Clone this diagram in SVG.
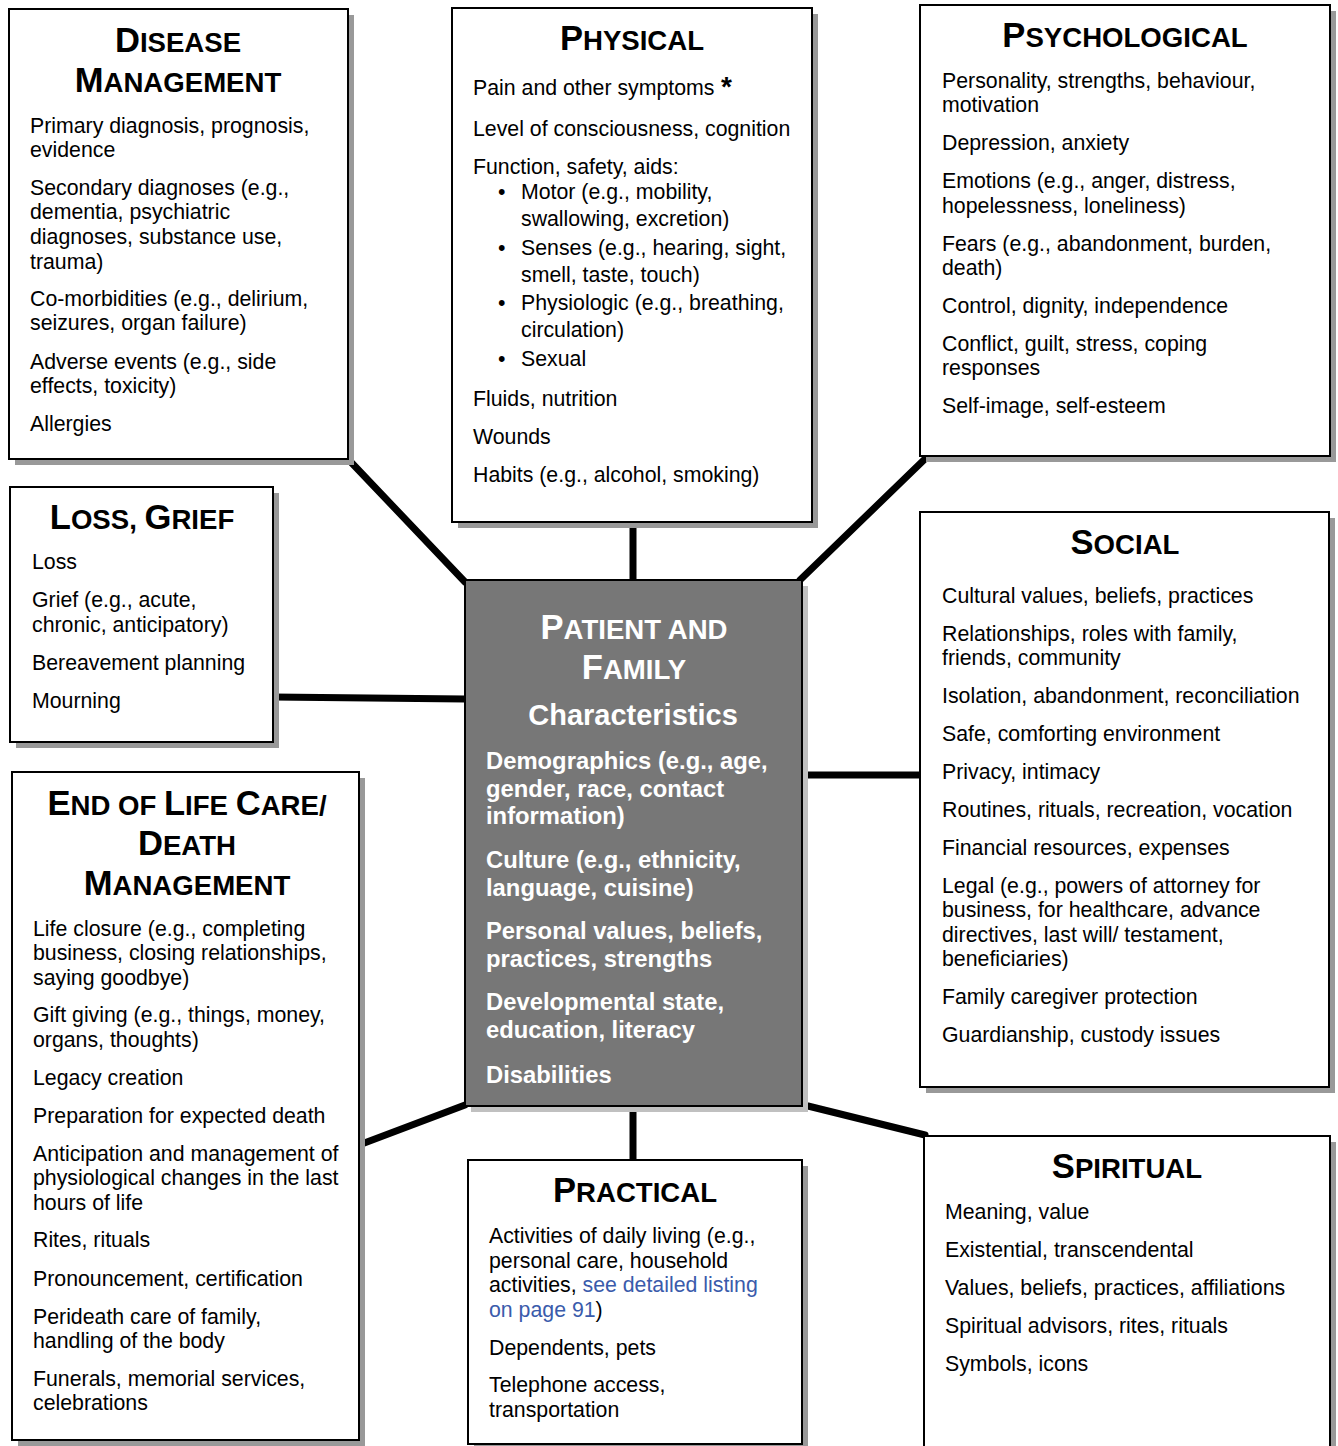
<svg xmlns="http://www.w3.org/2000/svg" width="1338" height="1446" viewBox="0 0 1338 1446">
<style>
.box{fill:#fff;stroke:#000;stroke-width:2}
.sh{fill:#999}
.csh{fill:#c0c0c0}
.cbox{fill:#777;stroke:#000;stroke-width:2}
.t{font-family:"Liberation Sans",Arial,sans-serif;font-size:21.3px;fill:#000}
.tt{font-family:"Liberation Sans",Arial,sans-serif;font-weight:bold;fill:#000;text-anchor:middle;font-size:27.6px}
.tt .b{font-size:34.6px}
.w{fill:#fff}
.cb{font-family:"Liberation Sans",Arial,sans-serif;font-weight:bold;font-size:23.8px;fill:#fff}
.ch{font-family:"Liberation Sans",Arial,sans-serif;font-weight:bold;font-size:29px;fill:#fff;text-anchor:middle}
.ast{font-family:"Liberation Sans",Arial,sans-serif;font-weight:bold;font-size:28px;fill:#000}
.lnk{fill:#3a5bab}
.con{stroke:#000;stroke-width:7;stroke-linecap:round;fill:none}
</style>
<rect width="1338" height="1446" fill="#fff"/>
<g id="connectors">
<line class="con" x1="348" y1="459" x2="465" y2="582"/>
<line class="con" x1="633" y1="522" x2="633" y2="580"/>
<line class="con" x1="928" y1="456" x2="800" y2="580"/>
<line class="con" x1="273" y1="697" x2="465" y2="699"/>
<line class="con" x1="808" y1="775" x2="925" y2="775"/>
<line class="con" x1="359" y1="1145" x2="465" y2="1105"/>
<line class="con" x1="633" y1="1110" x2="633" y2="1160"/>
<line class="con" x1="808" y1="1106" x2="925" y2="1135"/>
</g>
<g id="disease">
<rect class="sh" x="15" y="15" width="339" height="450"/>
<rect class="box" x="9" y="9" width="339" height="450"/>
<text class="tt" x="178" y="52"><tspan class="b">D</tspan>ISEASE</text>
<text class="tt" x="178" y="92"><tspan class="b">M</tspan>ANAGEMENT</text>
<text class="t" x="30" y="133">Primary diagnosis, prognosis,</text>
<text class="t" x="30" y="157">evidence</text>
<text class="t" x="30" y="195">Secondary diagnoses (e.g.,</text>
<text class="t" x="30" y="219">dementia, psychiatric</text>
<text class="t" x="30" y="244">diagnoses, substance use,</text>
<text class="t" x="30" y="269">trauma)</text>
<text class="t" x="30" y="306">Co-morbidities (e.g., delirium,</text>
<text class="t" x="30" y="330">seizures, organ failure)</text>
<text class="t" x="30" y="369">Adverse events (e.g., side</text>
<text class="t" x="30" y="393">effects, toxicity)</text>
<text class="t" x="30" y="431">Allergies</text>
</g>
<g id="physical">
<rect class="sh" x="458" y="14" width="360" height="514"/>
<rect class="box" x="452" y="8" width="360" height="514"/>
<text class="tt" x="632" y="50"><tspan class="b">P</tspan>HYSICAL</text>
<text class="t" x="473" y="95">Pain and other symptoms</text>
<text class="ast" x="721" y="96">*</text>
<text class="t" x="473" y="136">Level of consciousness, cognition</text>
<text class="t" x="473" y="174">Function, safety, aids:</text>
<text class="t" x="498" y="199">•</text>
<text class="t" x="521" y="199">Motor (e.g., mobility,</text>
<text class="t" x="521" y="226">swallowing, excretion)</text>
<text class="t" x="498" y="255">•</text>
<text class="t" x="521" y="255">Senses (e.g., hearing, sight,</text>
<text class="t" x="521" y="282">smell, taste, touch)</text>
<text class="t" x="498" y="310">•</text>
<text class="t" x="521" y="310">Physiologic (e.g., breathing,</text>
<text class="t" x="521" y="337">circulation)</text>
<text class="t" x="498" y="366">•</text>
<text class="t" x="521" y="366">Sexual</text>
<text class="t" x="473" y="406">Fluids, nutrition</text>
<text class="t" x="473" y="444">Wounds</text>
<text class="t" x="473" y="482">Habits (e.g., alcohol, smoking)</text>
</g>
<g id="psychological">
<rect class="sh" x="926" y="11" width="410" height="451"/>
<rect class="box" x="920" y="5" width="410" height="451"/>
<text class="tt" x="1125" y="47"><tspan class="b">P</tspan>SYCHOLOGICAL</text>
<text class="t" x="942" y="88">Personality, strengths, behaviour,</text>
<text class="t" x="942" y="112">motivation</text>
<text class="t" x="942" y="150">Depression, anxiety</text>
<text class="t" x="942" y="188">Emotions (e.g., anger, distress,</text>
<text class="t" x="942" y="213">hopelessness, loneliness)</text>
<text class="t" x="942" y="251">Fears (e.g., abandonment, burden,</text>
<text class="t" x="942" y="275">death)</text>
<text class="t" x="942" y="313">Control, dignity, independence</text>
<text class="t" x="942" y="351">Conflict, guilt, stress, coping</text>
<text class="t" x="942" y="375">responses</text>
<text class="t" x="942" y="413">Self-image, self-esteem</text>
</g>
<g id="loss">
<rect class="sh" x="16" y="493" width="263" height="255"/>
<rect class="box" x="10" y="487" width="263" height="255"/>
<text class="tt" x="142" y="529"><tspan class="b">L</tspan>OSS, <tspan class="b">G</tspan>RIEF</text>
<text class="t" x="32" y="569">Loss</text>
<text class="t" x="32" y="607">Grief (e.g., acute,</text>
<text class="t" x="32" y="632">chronic, anticipatory)</text>
<text class="t" x="32" y="670">Bereavement planning</text>
<text class="t" x="32" y="708">Mourning</text>
</g>
<g id="endoflife">
<rect class="sh" x="18" y="778" width="347" height="668"/>
<rect class="box" x="12" y="772" width="347" height="668"/>
<text class="tt" x="187" y="815"><tspan class="b">E</tspan>ND OF <tspan class="b">L</tspan>IFE <tspan class="b">C</tspan>ARE/</text>
<text class="tt" x="187" y="855"><tspan class="b">D</tspan>EATH</text>
<text class="tt" x="187" y="895"><tspan class="b">M</tspan>ANAGEMENT</text>
<text class="t" x="33" y="936">Life closure (e.g., completing</text>
<text class="t" x="33" y="960">business, closing relationships,</text>
<text class="t" x="33" y="985">saying goodbye)</text>
<text class="t" x="33" y="1022">Gift giving (e.g., things, money,</text>
<text class="t" x="33" y="1047">organs, thoughts)</text>
<text class="t" x="33" y="1085">Legacy creation</text>
<text class="t" x="33" y="1123">Preparation for expected death</text>
<text class="t" x="33" y="1161">Anticipation and management of</text>
<text class="t" x="33" y="1185">physiological changes in the last</text>
<text class="t" x="33" y="1210">hours of life</text>
<text class="t" x="33" y="1247">Rites, rituals</text>
<text class="t" x="33" y="1286">Pronouncement, certification</text>
<text class="t" x="33" y="1324">Perideath care of family,</text>
<text class="t" x="33" y="1348">handling of the body</text>
<text class="t" x="33" y="1386">Funerals, memorial services,</text>
<text class="t" x="33" y="1410">celebrations</text>
</g>
<g id="center">
<rect class="csh" x="471" y="586" width="337" height="526"/>
<rect class="cbox" x="465" y="580" width="337" height="526"/>
<text class="tt w" x="634" y="639"><tspan class="b">P</tspan>ATIENT AND</text>
<text class="tt w" x="634" y="679"><tspan class="b">F</tspan>AMILY</text>
<text class="ch" x="633" y="725">Characteristics</text>
<text class="cb" x="486" y="769">Demographics (e.g., age,</text>
<text class="cb" x="486" y="797">gender, race, contact</text>
<text class="cb" x="486" y="824">information)</text>
<text class="cb" x="486" y="868">Culture (e.g., ethnicity,</text>
<text class="cb" x="486" y="896">language, cuisine)</text>
<text class="cb" x="486" y="939">Personal values, beliefs,</text>
<text class="cb" x="486" y="967">practices, strengths</text>
<text class="cb" x="486" y="1010">Developmental state,</text>
<text class="cb" x="486" y="1038">education, literacy</text>
<text class="cb" x="486" y="1083">Disabilities</text>
</g>
<g id="social">
<rect class="sh" x="926" y="518" width="409" height="575"/>
<rect class="box" x="920" y="512" width="409" height="575"/>
<text class="tt" x="1125" y="554"><tspan class="b">S</tspan>OCIAL</text>
<text class="t" x="942" y="603">Cultural values, beliefs, practices</text>
<text class="t" x="942" y="641">Relationships, roles with family,</text>
<text class="t" x="942" y="665">friends, community</text>
<text class="t" x="942" y="703">Isolation, abandonment, reconciliation</text>
<text class="t" x="942" y="741">Safe, comforting environment</text>
<text class="t" x="942" y="779">Privacy, intimacy</text>
<text class="t" x="942" y="817">Routines, rituals, recreation, vocation</text>
<text class="t" x="942" y="855">Financial resources, expenses</text>
<text class="t" x="942" y="893">Legal (e.g., powers of attorney for</text>
<text class="t" x="942" y="917">business, for healthcare, advance</text>
<text class="t" x="942" y="942">directives, last will/ testament,</text>
<text class="t" x="942" y="966">beneficiaries)</text>
<text class="t" x="942" y="1004">Family caregiver protection</text>
<text class="t" x="942" y="1042">Guardianship, custody issues</text>
</g>
<g id="practical">
<rect class="sh" x="474" y="1166" width="334" height="284"/>
<rect class="box" x="468" y="1160" width="334" height="284"/>
<text class="tt" x="635" y="1202"><tspan class="b">P</tspan>RACTICAL</text>
<text class="t" x="489" y="1243">Activities of daily living (e.g.,</text>
<text class="t" x="489" y="1268">personal care, household</text>
<text class="t" x="489" y="1292">activities, <tspan class="lnk">see detailed listing</tspan></text>
<text class="t" x="489" y="1317"><tspan class="lnk">on page 91</tspan>)</text>
<text class="t" x="489" y="1355">Dependents, pets</text>
<text class="t" x="489" y="1392">Telephone access,</text>
<text class="t" x="489" y="1417">transportation</text>
</g>
<g id="spiritual">
<rect class="sh" x="930" y="1142" width="406" height="314"/>
<rect class="box" x="924" y="1136" width="406" height="314"/>
<text class="tt" x="1127" y="1178"><tspan class="b">S</tspan>PIRITUAL</text>
<text class="t" x="945" y="1219">Meaning, value</text>
<text class="t" x="945" y="1257">Existential, transcendental</text>
<text class="t" x="945" y="1295">Values, beliefs, practices, affiliations</text>
<text class="t" x="945" y="1333">Spiritual advisors, rites, rituals</text>
<text class="t" x="945" y="1371">Symbols, icons</text>
</g>
</svg>
